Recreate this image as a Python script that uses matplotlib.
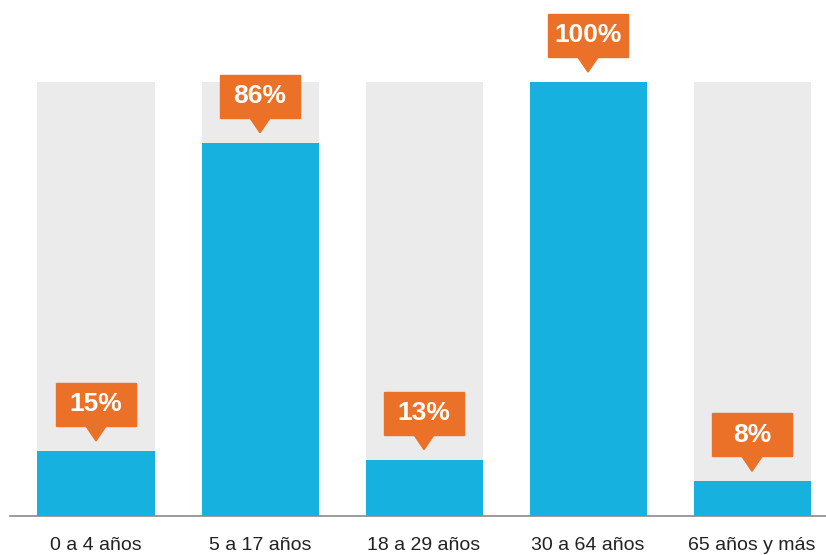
import matplotlib.pyplot as plt
from matplotlib.patches import Rectangle, Polygon

plt.rcParams['font.family'] = ['Liberation Sans', 'DejaVu Sans']

grupos = ["0 a 4 años", "5 a 17 años", "18 a 29 años", "30 a 64 años", "65 años y más"]
valores = [15, 86, 13, 100, 8]
etiquetas = ["15%", "86%", "13%", "100%", "8%"]

azul = '#16B1DF'
gris = '#EBEBEB'
naranja = '#EC7128'

W, H = 826, 555
fig = plt.figure(figsize=(W / 100, H / 100), dpi=100)
base_px = 516          # baseline, pixels from top
ax = fig.add_axes([0, (H - base_px) / H, 1, base_px / H])

spacing = 164.0        # pixels between bar centres
x0 = 96.0              # centre of first bar
ax.set_xlim(-x0 / spacing, (W - x0) / spacing)
px_per_unit = 434 / 100.0
ax.set_ylim(0, base_px / px_per_unit)
ax.axis('off')

xs = list(range(len(grupos)))
ancho = 117 / spacing
ax.bar(xs, [100] * len(xs), width=ancho, color=gris, zorder=1)
ax.bar(xs, valores, width=ancho, color=azul, zorder=2)

# baseline
ax.plot([10 / spacing - x0 / spacing, (W - x0) / spacing], [0, 0],
        color='#8a8a8a', lw=1.2, zorder=3, clip_on=False)

# callouts
bw = 80 / spacing
bh = 43 / px_per_unit
tri_h = 15 / px_per_unit
tri_w = 21 / spacing
gap = 10 / px_per_unit
for x, v, lab in zip(xs, valores, etiquetas):
    tip = v + gap
    bot = tip + tri_h
    ax.add_patch(Rectangle((x - bw / 2, bot), bw, bh, color=naranja, zorder=4, clip_on=False))
    ax.add_patch(Polygon([(x - tri_w / 2, bot + 0.1), (x + tri_w / 2, bot + 0.1), (x, tip)],
                         closed=True, color=naranja, zorder=4, clip_on=False))
    ax.text(x, bot + bh / 2, lab, color='white', fontsize=19, fontweight='bold',
            ha='center', va='center', zorder=5)

# category labels
for x, g in zip(xs, grupos):
    ax.text(x, -34 / px_per_unit, g, fontsize=14, color='#222222',
            ha='center', va='baseline', clip_on=False)

fig.savefig('out.png', dpi=100, facecolor='white')
